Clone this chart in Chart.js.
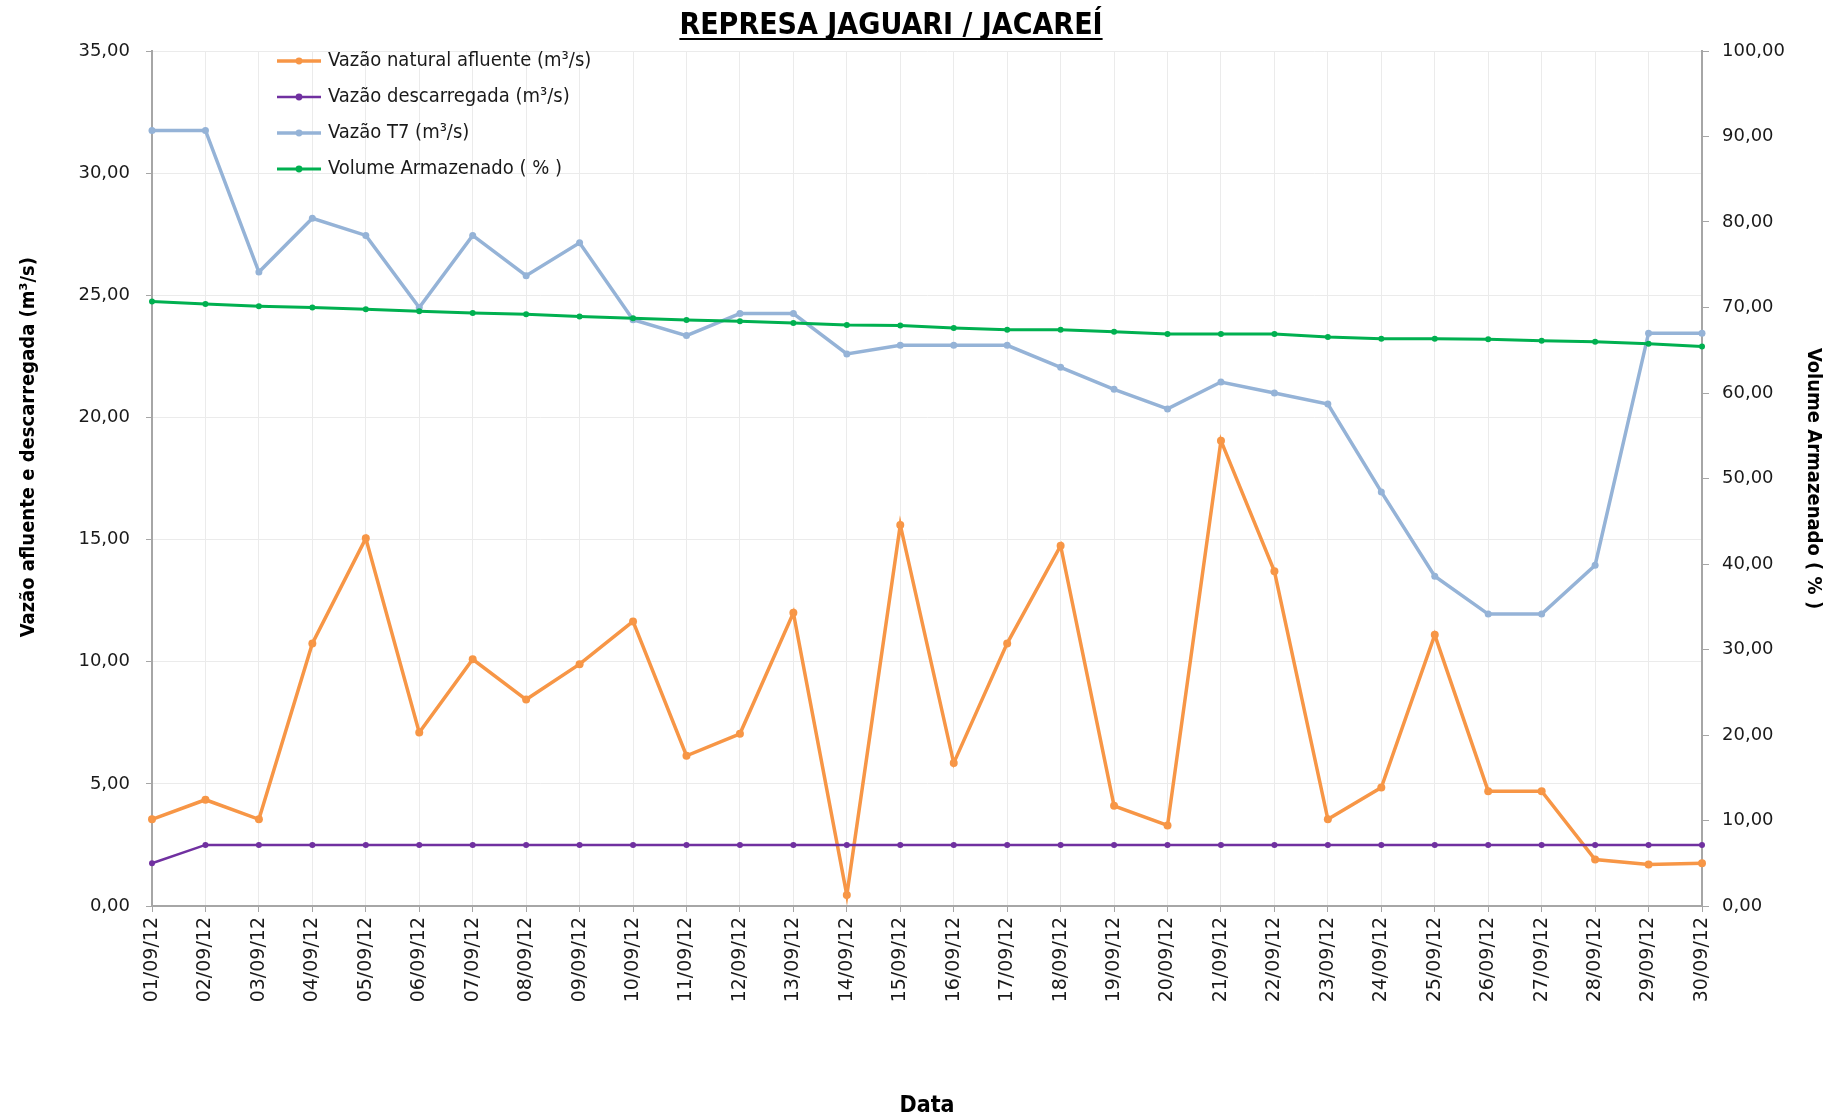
<!DOCTYPE html>
<html>
<head>
<meta charset="utf-8">
<title>Represa Jaguari / Jacareí</title>
<script src="https://cdn.jsdelivr.net/npm/chart.js@4.4.1/dist/chart.umd.min.js"></script>
<style>
  html, body { margin: 0; padding: 0; background: #fff; }
</style>
</head>
<body>
<canvas id="myChart" width="1832" height="1120"></canvas>
<script>
const days = [
  '01/09/12', '02/09/12', '03/09/12', '04/09/12', '05/09/12', '06/09/12', '07/09/12', '08/09/12', '09/09/12', '10/09/12',
  '11/09/12', '12/09/12', '13/09/12', '14/09/12', '15/09/12', '16/09/12', '17/09/12', '18/09/12', '19/09/12', '20/09/12',
  '21/09/12', '22/09/12', '23/09/12', '24/09/12', '25/09/12', '26/09/12', '27/09/12', '28/09/12', '29/09/12', '30/09/12'
];

// m³/s (left axis)
const vazaoNatural = [3.55, 4.35, 3.55, 10.75, 15.05, 7.1, 10.1, 8.45, 9.9, 11.65,
  6.15, 7.05, 12.0, 0.45, 15.6, 5.85, 10.75, 14.75, 4.1, 3.3,
  19.05, 13.7, 3.55, 4.85, 11.1, 4.7, 4.7, 1.9, 1.7, 1.75];
const vazaoDescarregada = [1.75, 2.5, 2.5, 2.5, 2.5, 2.5, 2.5, 2.5, 2.5, 2.5,
  2.5, 2.5, 2.5, 2.5, 2.5, 2.5, 2.5, 2.5, 2.5, 2.5,
  2.5, 2.5, 2.5, 2.5, 2.5, 2.5, 2.5, 2.5, 2.5, 2.5];
const vazaoT7 = [31.75, 31.75, 25.95, 28.15, 27.45, 24.5, 27.45, 25.8, 27.15, 24.0,
  23.35, 24.25, 24.25, 22.6, 22.95, 22.95, 22.95, 22.05, 21.15, 20.35,
  21.45, 21.0, 20.55, 16.95, 13.5, 11.95, 11.95, 13.95, 23.45, 23.45];

// % (right axis)
const volumeArmazenado = [70.7, 70.4, 70.15, 70.0, 69.8, 69.55, 69.35, 69.2, 68.95, 68.75,
  68.55, 68.4, 68.2, 67.95, 67.9, 67.6, 67.4, 67.4, 67.15, 66.9,
  66.9, 66.9, 66.55, 66.35, 66.35, 66.3, 66.1, 66.0, 65.75, 65.45];

const leftTicks = { min: 0, max: 35, step: 5 };
const rightTicks = { min: 0, max: 100, step: 10 };

const TITLE = 'REPRESA JAGUARI / JACAREÍ';
const narrow = "'Liberation Sans Narrow', 'DejaVu Sans Condensed', sans-serif";
const axisGray = '#a6a6a6';
const gridGray = '#ebebeb';

const colors = ['#F79646', '#7030A0', '#95B3D7', '#00B050'];
const lineWidths = [3.5, 2.5, 3.5, 3];
const radii = [4, 3, 3.5, 3];

// little line + dot used as legend symbol
const legendMarker = (color, width) => {
  const c = document.createElement('canvas');
  c.width = 44; c.height = 10;
  const g = c.getContext('2d');
  g.strokeStyle = color; g.lineWidth = width;
  g.beginPath(); g.moveTo(0, 5); g.lineTo(44, 5); g.stroke();
  g.fillStyle = color;
  g.beginPath(); g.arc(22, 5, 3.4, 0, Math.PI * 2); g.fill();
  return c;
};
const markers = colors.map((c, i) => legendMarker(c, lineWidths[i]));

const comma = (v) => Number(v).toFixed(2).replace('.', ',');

// moves legend / title to where the original has them, underlines title
const layoutTweaks = {
  id: 'layoutTweaks',
  afterLayout(chart) {
    const area = chart.chartArea;
    const legend = chart.legend;
    legend.left = area.left + 112;
    legend.right = legend.left + legend.width;
    legend.top = area.top - 16;
    legend.bottom = legend.top + legend.height;
    const t = chart.titleBlock;
    t.left -= 50;
  },
  afterDraw(chart) {
    const t = chart.titleBlock;
    const ctx = chart.ctx;
    ctx.save();
    ctx.font = 'bold 30px ' + narrow;
    const w = ctx.measureText(TITLE).width;
    const cx = (t.left + t.right) / 2;
    const y = t.top + 8 + 18 + 13;
    ctx.strokeStyle = '#000';
    ctx.lineWidth = 2;
    ctx.beginPath(); ctx.moveTo(cx - w / 2, y); ctx.lineTo(cx + w / 2, y); ctx.stroke();
    ctx.restore();
  }
};

const makeSet = (label, data, i, axis) => ({
  label,
  data,
  yAxisID: axis,
  borderColor: colors[i],
  backgroundColor: colors[i],
  borderWidth: lineWidths[i],
  pointRadius: radii[i],
  pointBorderWidth: 0,
  pointBackgroundColor: colors[i],
  tension: 0,
  order: 3 - i
});

const ctx = document.querySelector('#myChart').getContext('2d');
const chart = new Chart(ctx, {
  type: 'line',
  data: {
    labels: days,
    datasets: [
      makeSet('Vazão natural afluente (m³/s)', vazaoNatural, 0, 'y'),
      makeSet('Vazão descarregada (m³/s)', vazaoDescarregada, 1, 'y'),
      makeSet('Vazão T7 (m³/s)', vazaoT7, 2, 'y'),
      makeSet('Volume Armazenado ( % )', volumeArmazenado, 3, 'y1')
    ]
  },
  options: {
    responsive: false,
    animation: false,
    devicePixelRatio: 1,
    layout: { padding: 0 },
    plugins: {
      tooltip: { enabled: false },
      title: {
        display: true,
        text: TITLE,
        color: '#000',
        font: { family: narrow, size: 30, weight: 'bold' },
        padding: { top: 8, bottom: 7 }
      },
      legend: {
        position: 'chartArea',
        align: 'start',
        labels: {
          usePointStyle: true,
          pointStyleWidth: 38,
          padding: 16,
          color: '#1a1a1a',
          font: { family: narrow, size: 20 },
          generateLabels: (chart) => {
            const items = Chart.defaults.plugins.legend.labels.generateLabels(chart);
            items.sort((a, b) => a.datasetIndex - b.datasetIndex);
            items.forEach(item => { item.pointStyle = markers[item.datasetIndex]; });
            return items;
          }
        }
      }
    },
    scales: {
      x: {
        afterFit: (scale) => { scale.height = 214; },
        grid: { color: gridGray, tickColor: axisGray, tickLength: 6 },
        border: { color: axisGray, width: 2 },
        ticks: {
          autoSkip: false, minRotation: 90, maxRotation: 90, padding: 5,
          color: '#1a1a1a',
          font: { family: "'DejaVu Sans', sans-serif", size: 19 }
        },
        title: {
          display: true, text: 'Data', color: '#000',
          font: { family: narrow, size: 23, weight: 'bold' },
          padding: { top: 0, bottom: 0 }
        }
      },
      y: {
        position: 'left',
        min: leftTicks.min, max: leftTicks.max,
        afterFit: (scale) => { scale.width = 152; },
        grid: { color: gridGray, tickColor: axisGray, tickLength: 6 },
        border: { color: axisGray, width: 2 },
        ticks: {
          stepSize: leftTicks.step, padding: 16, color: '#1a1a1a',
          font: { family: "'DejaVu Sans', sans-serif", size: 18 },
          callback: comma
        },
        title: {
          display: true,
          text: '\u00a0\u00a0\u00a0\u00a0\u00a0\u00a0\u00a0\u00a0\u00a0\u00a0Vazão afluente e descarregada (m³/s)',
          color: '#000',
          font: { family: narrow, size: 20, weight: 'bold' },
          padding: { top: 17, bottom: 0 }
        }
      },
      y1: {
        position: 'right',
        min: rightTicks.min, max: rightTicks.max,
        afterFit: (scale) => { scale.width = 130; },
        grid: { drawOnChartArea: false, tickColor: axisGray, tickLength: 7 },
        border: { color: axisGray, width: 2 },
        ticks: {
          stepSize: rightTicks.step, padding: 13, color: '#1a1a1a',
          font: { family: "'DejaVu Sans', sans-serif", size: 18 },
          callback: comma
        },
        title: {
          display: true, text: 'Volume Armazenado ( % )', color: '#000',
          font: { family: narrow, size: 20, weight: 'bold' },
          padding: { top: 7, bottom: 0 }
        }
      }
    }
  },
  plugins: [layoutTweaks]
});
</script>
</body>
</html>
